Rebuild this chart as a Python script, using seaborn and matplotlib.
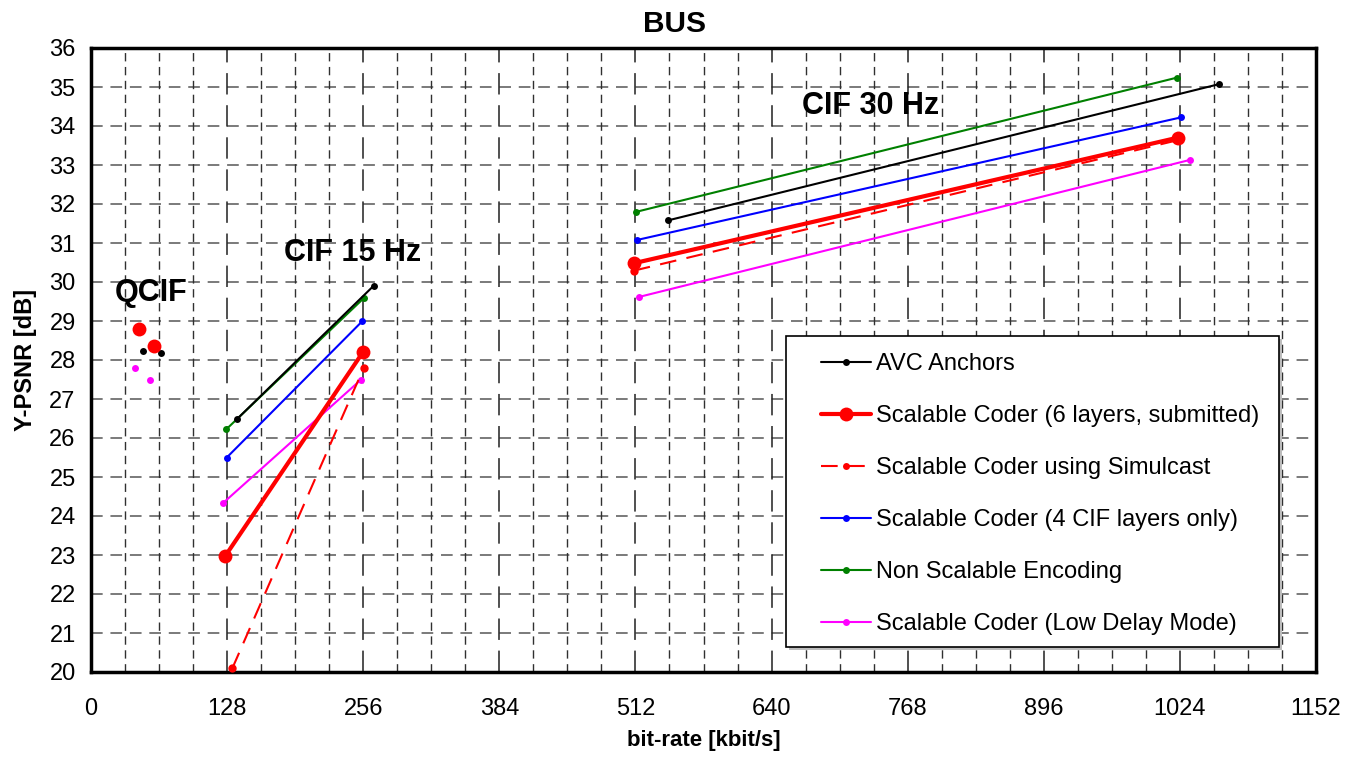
import matplotlib
matplotlib.use("Agg")
import matplotlib.pyplot as plt
from matplotlib.lines import Line2D
from matplotlib.patches import Rectangle
import seaborn as sns
import pandas as pd

sns.set_style("white")
plt.rcParams['font.family'] = ['Liberation Sans', 'DejaVu Sans']
plt.rcParams['text.color'] = 'black'
plt.rcParams['axes.labelcolor'] = 'black'

# ---- data (bit-rate kbit/s, Y-PSNR dB) ----
series_names = ["AVC Anchors", "Scalable Coder (6 layers, submitted)",
                "Scalable Coder using Simulcast", "Scalable Coder (4 CIF layers only)",
                "Non Scalable Encoding", "Scalable Coder (Low Delay Mode)"]

# QCIF points (markers only)
qcif_avc_x = [48.6, 65.9]
qcif_avc_y = [28.23, 28.19]
qcif_svc_x = [45.5, 59.6]
qcif_svc_y = [28.8, 28.36]
qcif_ld_x = [41.4, 55.5]
qcif_ld_y = [27.79, 27.5]

# CIF 15 Hz
cif15_avc_x = [137.1, 265.7]
cif15_avc_y = [26.48, 29.9]
cif15_svc_x = [126.4, 255.7]
cif15_svc_y = [22.98, 28.2]
cif15_sim_x = [133.0, 256.3]
cif15_sim_y = [20.1, 27.79]
cif15_4l_x = [127.7, 255.3]
cif15_4l_y = [25.5, 29.0]
cif15_ns_x = [127.1, 256.3]
cif15_ns_y = [26.22, 29.58]
cif15_ld_x = [124.5, 254.1]
cif15_ld_y = [24.34, 27.5]

# CIF 30 Hz
cif30_avc_x = [542.7, 1060.4]
cif30_avc_y = [31.58, 35.07]
cif30_svc_x = [510.4, 1021.8]
cif30_svc_y = [30.48, 33.7]
cif30_sim_x = [510.4, 1021.0]
cif30_sim_y = [30.29, 33.63]
cif30_4l_x = [513.9, 1024.9]
cif30_4l_y = [31.08, 34.22]
cif30_ns_x = [512.9, 1021.2]
cif30_ns_y = [31.8, 35.24]
cif30_ld_x = [515.8, 1033.4]
cif30_ld_y = [29.62, 33.13]

x_ticks = [0, 128, 256, 384, 512, 640, 768, 896, 1024, 1152]
y_ticks = list(range(20, 37))

# ---- styles ----
styles = {
    "AVC Anchors": dict(color="black", lw=1.5, ms=5, ls="-"),
    "Scalable Coder (6 layers, submitted)": dict(color="red", lw=3.0, ms=10, ls="-"),
    "Scalable Coder using Simulcast": dict(color="red", lw=1.5, ms=6, ls=(0, (8, 5))),
    "Scalable Coder (4 CIF layers only)": dict(color="blue", lw=1.5, ms=5, ls="-"),
    "Non Scalable Encoding": dict(color="green", lw=1.5, ms=5, ls="-"),
    "Scalable Coder (Low Delay Mode)": dict(color="magenta", lw=1.5, ms=5, ls="-"),
}

W, H = 1363, 761
fig = plt.figure(figsize=(W / 100, H / 100), dpi=100)
L, R, T, B = 91, 1316, 48, 672
ax = fig.add_axes([L / W, 1 - B / H, (R - L) / W, (B - T) / H])

def seg(name, xs, ys):
    st = styles[name]
    df = pd.DataFrame({"x": xs, "y": ys})
    sns.lineplot(data=df, x="x", y="y", ax=ax, color=st["color"], linewidth=st["lw"],
                 linestyle=st["ls"], marker="o", markersize=st["ms"],
                 markeredgewidth=0, sort=False, estimator=None, legend=False, clip_on=False,
                 zorder=3)

def pts(name, xs, ys):
    st = styles[name]
    df = pd.DataFrame({"x": xs, "y": ys})
    sns.scatterplot(data=df, x="x", y="y", ax=ax, color=st["color"], s=st["ms"] ** 2,
                    linewidth=0, legend=False, zorder=3)

seg("Non Scalable Encoding", cif15_ns_x, cif15_ns_y)
seg("AVC Anchors", cif15_avc_x, cif15_avc_y)
seg("Scalable Coder (4 CIF layers only)", cif15_4l_x, cif15_4l_y)
seg("Scalable Coder (Low Delay Mode)", cif15_ld_x, cif15_ld_y)
seg("Scalable Coder using Simulcast", cif15_sim_x, cif15_sim_y)
seg("Scalable Coder (6 layers, submitted)", cif15_svc_x, cif15_svc_y)

seg("Non Scalable Encoding", cif30_ns_x, cif30_ns_y)
seg("AVC Anchors", cif30_avc_x, cif30_avc_y)
seg("Scalable Coder (4 CIF layers only)", cif30_4l_x, cif30_4l_y)
seg("Scalable Coder (Low Delay Mode)", cif30_ld_x, cif30_ld_y)
seg("Scalable Coder using Simulcast", cif30_sim_x, cif30_sim_y)
seg("Scalable Coder (6 layers, submitted)", cif30_svc_x, cif30_svc_y)

pts("AVC Anchors", qcif_avc_x, qcif_avc_y)
pts("Scalable Coder (6 layers, submitted)", qcif_svc_x, qcif_svc_y)
pts("Scalable Coder (Low Delay Mode)", qcif_ld_x, qcif_ld_y)

ax.set_xlim(0, 1152)
ax.set_ylim(20, 36)
ax.set_xticks(x_ticks)
ax.set_yticks(y_ticks)

# grids
for yv in y_ticks[1:-1]:
    ax.axhline(yv, color="#7a7a7a", lw=1.4, ls=(0, (6, 4)), zorder=1)
for xv in range(32, 1152, 32):
    if xv % 128 == 0:
        ax.axvline(xv, color="#202020", lw=1.1, ls=(0, (14, 7)), zorder=1)
    else:
        ax.axvline(xv, color="#303030", lw=1.0, ls=(0, (6, 4)), zorder=1)

ax.tick_params(axis="both", which="major", direction="in", length=6, width=1.5,
               labelsize=17, colors="black")
ax.tick_params(axis="x", pad=19)
ax.tick_params(axis="y", pad=11)
for sp in ax.spines.values():
    sp.set_visible(True)
    sp.set_color("black")
    sp.set_linewidth(2.5)

ax.set_xlabel("bit-rate [kbit/s]", fontsize=16, fontweight="bold", labelpad=7)
ax.set_ylabel("Y-PSNR [dB]", fontsize=17, fontweight="bold", labelpad=9)
fig.text(674.5 / W, 1 - 24 / H, "BUS", ha="center", va="center", fontsize=21.5,
         fontweight="bold")

ax.text(57, 29.72, "QCIF", ha="center", va="center", fontsize=22, fontweight="bold")
ax.text(245.6, 30.74, "CIF 15 Hz", ha="center", va="center", fontsize=22, fontweight="bold")
ax.text(733, 34.51, "CIF 30 Hz", ha="center", va="center", fontsize=22, fontweight="bold")

# legend frame (with light shadow)
def ax_frac(px, py):
    return ((px - L) / (R - L), (B - py) / (B - T))

x0, y0 = ax_frac(786, 647)
x1, y1 = ax_frac(1279, 336)
sx, sy = ax_frac(789, 650)
ax.add_patch(Rectangle((sx, sy), x1 - x0, y1 - y0, transform=ax.transAxes,
                       facecolor="#bdbdbd", edgecolor="none", zorder=4))
ax.add_patch(Rectangle((x0, y0), x1 - x0, y1 - y0, transform=ax.transAxes,
                       facecolor="white", edgecolor="black", lw=1.2, zorder=4.5))

handles = []
for name in series_names:
    st = styles[name]
    handles.append(Line2D([0], [0], color=st["color"], lw=st["lw"], ls=st["ls"], marker="o",
                          markersize=st["ms"] if st["ms"] > 6 else 5, markeredgewidth=0))
ax_anchor = ax_frac(821, 353)
leg = ax.legend(handles, series_names, loc="upper left",
                bbox_to_anchor=ax_anchor, fontsize=17, frameon=False,
                handlelength=2.1, labelspacing=1.27, borderpad=0,
                handletextpad=0.25, borderaxespad=0)
leg.set_zorder(5)
for t in leg.get_texts():
    t.set_color("black")

fig.savefig("out.png", dpi=100)
